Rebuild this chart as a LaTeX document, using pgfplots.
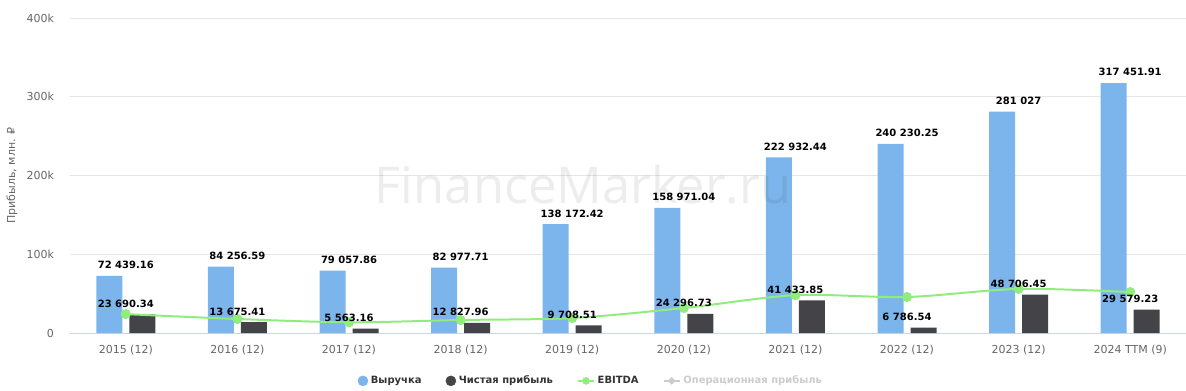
\documentclass[border=0pt]{standalone}
\usepackage{fontspec}
\setmainfont{DejaVu Sans}
\newfontfamily\wmfont{Open Sans}
\usepackage{pgfplots}
\usepackage{pgfplotstable}
\pgfplotsset{compat=1.18}
\definecolor{rev}{HTML}{7CB5EC}
\definecolor{net}{HTML}{434348}
\definecolor{ebit}{HTML}{90ED7D}
\definecolor{gridc}{HTML}{E6E6E6}
\definecolor{axisc}{HTML}{CCD6EB}
\definecolor{tickc}{HTML}{666666}
\definecolor{legc}{HTML}{333333}
\definecolor{hid}{HTML}{CCCCCC}
\pgfplotstableread[col sep=comma]{
x,rev,revlab,net,netlab,ebitda
0,72439.16,72 439.16,23690.34,23 690.34,24000
1,84256.59,84 256.59,13675.41,13 675.41,17800
2,79057.86,79 057.86,5563.16,5 563.16,13600
3,82977.71,82 977.71,12827.96,12 827.96,16500
4,138172.42,138 172.42,9708.51,9 708.51,19000
5,158971.04,158 971.04,24296.73,24 296.73,31700
6,222932.44,222 932.44,41433.85,41 433.85,48000
7,240230.25,240 230.25,6786.54,6 786.54,45700
8,281027,281 027,48706.45,48 706.45,56000
9,317451.91,317 451.91,29579.23,29 579.23,52000
}\data
\begin{document}
\begin{tikzpicture}
\begin{axis}[
  at={(0,0)}, anchor=south west,
  scale only axis, width=837pt, height=236.25pt,
  xmin=-0.5, xmax=9.5, ymin=0, ymax=400000,
  xtick={0,...,9},
  xticklabels={2015 (12),2016 (12),2017 (12),2018 (12),2019 (12),2020 (12),2021 (12),2022 (12),2023 (12),2024 TTM (9)},
  ytick={0,100000,200000,300000,400000},
  yticklabels={0,100k,200k,300k,400k},
  scaled y ticks=false,
  separate axis lines,
  axis x line*=bottom, axis y line*=left,
  x axis line style={draw=axisc, line width=0.75pt, -},
  y axis line style={draw=none},
  major tick length=0pt,
  ymajorgrids, grid style={draw=gridc, line width=0.75pt},
  tick label style={font=\fontsize{8.25}{10}\selectfont, text=tickc},
  yticklabel style={xshift=-8.5pt},
  xticklabel style={yshift=-5.5pt},
  ylabel={Прибыль, млн. ₽},
  ylabel style={at={(axis description cs:-0.052,0.5)}, anchor=center, font=\fontsize{8.25}{10}\selectfont, text=tickc},
  legend columns=-1,
  legend style={at={(axis description cs:0.467,-0.152)}, anchor=center, draw=none, fill=none,
    font=\bfseries\fontsize{7.5}{9}\selectfont, text=legc,
    /tikz/every even column/.append style={column sep=16pt}},
  lbl/.style={point meta=explicit symbolic, nodes near coords,
    nodes near coords style={font=\bfseries\fontsize{7.5}{9}\selectfont, text=black, anchor=south, inner sep=0pt, yshift=5pt}},
]
\addlegendimage{legend image code/.code={\fill[rev] (3.75pt,0pt) circle (3.75pt);}}
\addlegendentry{Выручка}
\addlegendimage{legend image code/.code={\fill[net] (3.75pt,0pt) circle (3.75pt);}}
\addlegendentry{Чистая прибыль}
\addlegendimage{legend image code/.code={\draw[ebit, line width=1.5pt] (0pt,0pt) -- (12pt,0pt); \fill[ebit] (6pt,0pt) circle (2.6pt);}}
\addlegendentry{EBITDA}
\addlegendimage{legend image code/.code={\draw[hid, line width=1.5pt] (0pt,0pt) -- (12pt,0pt); \fill[hid] (6pt,-2.6pt) -- (8.6pt,0pt) -- (6pt,2.6pt) -- (3.4pt,0pt) -- cycle;}}
\addlegendentry{\textcolor{hid}{Операционная прибыль}}

\addplot[ybar, bar width=19.5pt, bar shift=-12.375pt, fill=rev, draw=none, forget plot] table[x=x,y=rev]{\data};
\addplot[ybar, bar width=19.5pt, bar shift=12.375pt, fill=net, draw=none, forget plot] table[x=x,y=net]{\data};

\node[font=\wmfont\fontsize{38}{44}\selectfont, text=black, text opacity=0.07] at (rel axis cs:0.4597,0.47) {FinanceMarker.ru};

\addplot[ebit, line width=1.5pt, smooth, mark=*, mark size=3pt, mark options={fill=ebit, draw=ebit}, forget plot] table[x=x,y=ebitda]{\data};

\addplot[ybar, bar width=19.5pt, bar shift=-12.375pt, draw=none, fill=none, lbl, forget plot] table[x=x,y=rev,meta=revlab]{\data};
\addplot[ybar, bar width=19.5pt, bar shift=12.375pt, draw=none, fill=none, lbl, forget plot] table[x=x,y=net,meta=netlab]{\data};
\end{axis}
\pgfresetboundingbox
\path[use as bounding box] (-52.5pt,-42.75pt) rectangle (837pt,249.75pt);
\end{tikzpicture}
\end{document}
